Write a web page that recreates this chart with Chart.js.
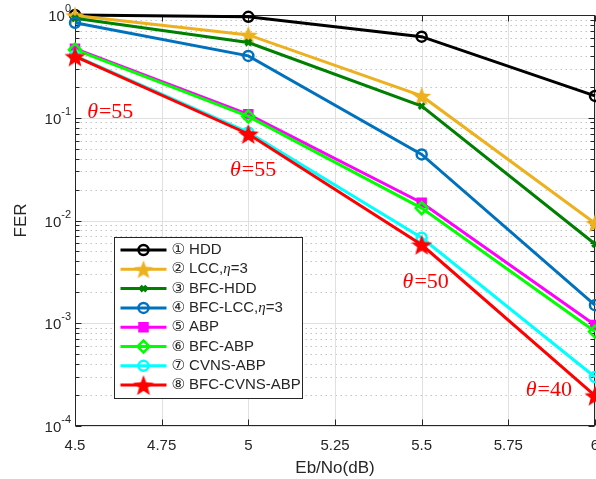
<!DOCTYPE html>
<html>
<head>
<meta charset="utf-8">
<script src="https://cdn.jsdelivr.net/npm/chart.js@4/dist/chart.umd.min.js"></script>
<style>
  html, body { margin: 0; padding: 0; background: #fff; }
  canvas { display: block; }
</style>
</head>
<body>
<canvas id="chart-fer" width="596" height="479"></canvas>
<script>
// data
var snr = [4.5, 5, 5.5, 6];
var xTickValues = [4.5, 4.75, 5, 5.25, 5.5, 5.75, 6];
var yExponents = [0, -1, -2, -3, -4];
var seriesNames = ['\u2460 HDD', '\u2461 LCC,\u03b7=3', '\u2462 BFC-HDD', '\u2463 BFC-LCC,\u03b7=3', '\u2464 ABP', '\u2465 BFC-ABP', '\u2466 CVNS-ABP', '\u2467 BFC-CVNS-ABP'];
var ferHDD = [1.0, 0.96, 0.615, 0.163];
var ferLCC = [0.99, 0.64, 0.163, 0.0094];
var ferBfcHDD = [0.93, 0.54, 0.13, 0.0059];
var ferBfcLCC = [0.84, 0.40, 0.044, 0.0015];
var ferABP = [0.47, 0.108, 0.0149, 0.00096];
var ferBfcABP = [0.46, 0.103, 0.0132, 0.00083];
var ferCVNS = [0.40, 0.072, 0.0068, 0.0003];
var ferBfcCVNS = [0.395, 0.0695, 0.0058, 0.000197];
var noteTexts = ['\u03b8=55', '\u03b8=55', '\u03b8=50', '\u03b8=40'];
var noteX = [4.535, 4.947, 5.445, 5.80];
var noteY = [0.114, 0.031, 0.00252, 0.000224];

var allSeries = [ferHDD, ferLCC, ferBfcHDD, ferBfcLCC, ferABP, ferBfcABP, ferCVNS, ferBfcCVNS];
var colors = ['#000000', '#EDB120', '#008000', '#0072BD', '#FF00FF', '#00FF00', '#00FFFF', '#FF0000'];

function makeStar(color, R) {
  var c = document.createElement('canvas');
  var s = Math.ceil(R * 2 + 2);
  c.width = s; c.height = s;
  var g = c.getContext('2d');
  var cx = s / 2, cy = s / 2 + R * 0.1, r = R * 0.42;
  g.beginPath();
  for (var i = 0; i < 10; i++) {
    var a = -Math.PI / 2 + i * Math.PI / 5;
    var rr = i % 2 ? r : R;
    g.lineTo(cx + rr * Math.cos(a), cy + rr * Math.sin(a));
  }
  g.closePath();
  g.fillStyle = color;
  g.fill();
  return c;
}

var markers = [
  { style: 'circle', radius: 5, bw: 2.5, fill: 'rgba(0,0,0,0)' },
  { style: makeStar('#EDB120', 10), radius: 8, bw: 0, fill: '#EDB120' },
  { style: 'crossRot', radius: 4, bw: 3, fill: 'rgba(0,0,0,0)' },
  { style: 'circle', radius: 5, bw: 2.5, fill: 'rgba(0,0,0,0)' },
  { style: 'rect', radius: 6, bw: 2, fill: '#FF00FF' },
  { style: 'rectRot', radius: 6, bw: 2.5, fill: 'rgba(0,0,0,0)' },
  { style: 'circle', radius: 5, bw: 2.5, fill: 'rgba(0,0,0,0)' },
  { style: makeStar('#FF0000', 11), radius: 9, bw: 0, fill: '#FF0000' }
];

var datasets = allSeries.map(function(vals, i) {
  return {
    label: seriesNames[i],
    data: vals.map(function(v, j) { return { x: snr[j], y: v }; }),
    borderColor: colors[i],
    backgroundColor: markers[i].fill,
    borderWidth: 3,
    pointStyle: markers[i].style,
    pointRadius: markers[i].radius,
    pointBorderWidth: markers[i].bw,
    pointBorderColor: colors[i],
    pointBackgroundColor: markers[i].fill,
    tension: 0,
    clip: false,
    order: allSeries.length - i
  };
});

function hline(ctx, x1, x2, y) { ctx.beginPath(); ctx.moveTo(x1, y); ctx.lineTo(x2, y); ctx.stroke(); }
function vline(ctx, x, y1, y2) { ctx.beginPath(); ctx.moveTo(x, y1); ctx.lineTo(x, y2); ctx.stroke(); }

var matlabAxes = {
  id: 'matlabAxes',
  beforeDatasetsDraw: function(chart) {
    var ctx = chart.ctx, a = chart.chartArea, xs = chart.scales.x, ys = chart.scales.y;
    var L = a.left + 0.5, R = a.right - 0.5, T = a.top + 0.5, B = a.bottom - 0.5;
    ctx.save();
    ctx.lineWidth = 1;
    // minor grid (dotted)
    ctx.strokeStyle = '#c4c4c4';
    ctx.setLineDash([1.5, 3.5]);
    yExponents.forEach(function(e) {
      if (e === 0) return;
      for (var m = 2; m <= 9; m++) {
        var y = Math.round(ys.getPixelForValue(m * Math.pow(10, e))) + 0.5;
        hline(ctx, L, R, y);
      }
    });
    ctx.setLineDash([]);
    // major grid
    ctx.strokeStyle = '#e0e0e0';
    xTickValues.forEach(function(v) {
      var x = Math.round(xs.getPixelForValue(v)) + 0.5;
      vline(ctx, x, T, B);
    });
    yExponents.forEach(function(e) {
      var y = Math.round(ys.getPixelForValue(Math.pow(10, e))) + 0.5;
      hline(ctx, L, R, y);
    });
    // box and inward ticks
    ctx.strokeStyle = '#262626';
    ctx.strokeRect(L, T, R - L, B - T);
    xTickValues.forEach(function(v) {
      var x = Math.round(xs.getPixelForValue(v)) + 0.5;
      vline(ctx, x, B, B - 6);
      vline(ctx, x, T, T + 6);
    });
    yExponents.forEach(function(e) {
      var y = Math.round(ys.getPixelForValue(Math.pow(10, e))) + 0.5;
      hline(ctx, L, L + 6, y);
      hline(ctx, R, R - 6, y);
      if (e === 0) return;
      for (var m = 2; m <= 9; m++) {
        var ym = Math.round(ys.getPixelForValue(m * Math.pow(10, e))) + 0.5;
        hline(ctx, L, L + 4, ym);
        hline(ctx, R, R - 4, ym);
      }
    });
    ctx.restore();
  },
  afterDatasetsDraw: function(chart) {
    var ctx = chart.ctx, a = chart.chartArea, xs = chart.scales.x, ys = chart.scales.y;
    ctx.save();
    // y tick labels 10^n
    ctx.fillStyle = '#262626';
    ctx.textBaseline = 'middle';
    yExponents.forEach(function(e) {
      var y = ys.getPixelForValue(Math.pow(10, e));
      var ex = String(e);
      ctx.font = '11px "Liberation Sans", Arial, sans-serif';
      var we = ctx.measureText(ex).width;
      var right = a.left - 4;
      ctx.textAlign = 'left';
      ctx.fillText(ex, right - we, y - 6);
      ctx.font = '15px "Liberation Sans", Arial, sans-serif';
      ctx.textAlign = 'right';
      ctx.fillText('10', right - we, y + 2);
    });

    // theta annotations
    ctx.fillStyle = '#FF0000';
    ctx.textAlign = 'left';
    noteTexts.forEach(function(t, i) {
      var x = xs.getPixelForValue(noteX[i]);
      var y = ys.getPixelForValue(noteY[i]);
      ctx.font = 'italic 22px "Liberation Serif", "DejaVu Serif", serif';
      var head = t.charAt(0);
      ctx.fillText(head, x, y);
      var w = ctx.measureText(head).width;
      ctx.font = '22px "Liberation Serif", "DejaVu Serif", serif';
      ctx.fillText(t.slice(1), x + w + 1, y);
    });

    // legend box inside the axes
    var bx = 114.5, by = 237.5, bw = 188, bh = 161, rowH = 19.3;
    ctx.fillStyle = '#ffffff';
    ctx.fillRect(bx, by, bw, bh);
    ctx.strokeStyle = '#262626';
    ctx.lineWidth = 1;
    ctx.strokeRect(bx, by, bw, bh);
    chart.data.datasets.forEach(function(ds, i) {
      var y = by + 12.5 + i * rowH;
      ctx.strokeStyle = ds.borderColor;
      ctx.lineWidth = 3;
      hline(ctx, bx + 6, bx + 52, y);
      ctx.fillStyle = ds.pointBackgroundColor;
      ctx.strokeStyle = ds.pointBorderColor;
      ctx.lineWidth = ds.pointBorderWidth;
      Chart.helpers.drawPoint(ctx, { pointStyle: ds.pointStyle, radius: ds.pointRadius, borderWidth: ds.pointBorderWidth, rotation: 0 }, bx + 29, y);
      // label text, eta in italic serif
      var tx = bx + 57;
      var parts = ds.label.split('\u03b7');
      ctx.fillStyle = '#262626';
      ctx.textAlign = 'left';
      parts.forEach(function(p, k) {
        if (k > 0) {
          ctx.font = 'italic 15px "Liberation Serif", serif';
          ctx.fillText('\u03b7', tx, y);
          tx += ctx.measureText('\u03b7').width;
        }
        ctx.font = '15px "Liberation Sans", "DejaVu Sans", sans-serif';
        ctx.fillText(p, tx, y);
        tx += ctx.measureText(p).width;
      });
    });
    ctx.restore();
  }
};

new Chart(document.getElementById('chart-fer').getContext('2d'), {
  type: 'line',
  data: { datasets: datasets },
  options: {
    responsive: false,
    animation: false,
    layout: { autoPadding: false, padding: { top: 15, right: 1, left: 0, bottom: 0 } },
    plugins: { legend: { display: false }, tooltip: { enabled: false } },
    scales: {
      x: {
        type: 'linear',
        min: 4.5,
        max: 6,
        afterBuildTicks: function(scale) {
          scale.ticks = xTickValues.map(function(v) { return { value: v }; });
        },
        afterFit: function(scale) {
          scale.height = 53;
          scale.paddingLeft = 0;
          scale.paddingRight = 0;
        },
        grid: { display: false, drawTicks: false },
        border: { display: false },
        ticks: {
          color: '#262626',
          padding: 11,
          maxRotation: 0,
          autoSkip: false,
          font: { family: '"Liberation Sans", Arial, sans-serif', size: 15 },
          callback: function(v) { return String(v); }
        },
        title: {
          display: true,
          text: 'Eb/No(dB)',
          color: '#262626',
          padding: { top: 0, bottom: 0 },
          font: { family: '"Liberation Sans", Arial, sans-serif', size: 17 }
        }
      },
      y: {
        type: 'logarithmic',
        min: 1e-4,
        max: 1,
        afterFit: function(scale) { scale.width = 75; },
        grid: { display: false, drawTicks: false },
        border: { display: false },
        ticks: { display: false },
        title: {
          display: true,
          text: 'FER',
          color: '#262626',
          padding: { top: 11, bottom: 0 },
          font: { family: '"Liberation Sans", Arial, sans-serif', size: 17 }
        }
      }
    }
  },
  plugins: [matlabAxes]
});
</script>
</body>
</html>
